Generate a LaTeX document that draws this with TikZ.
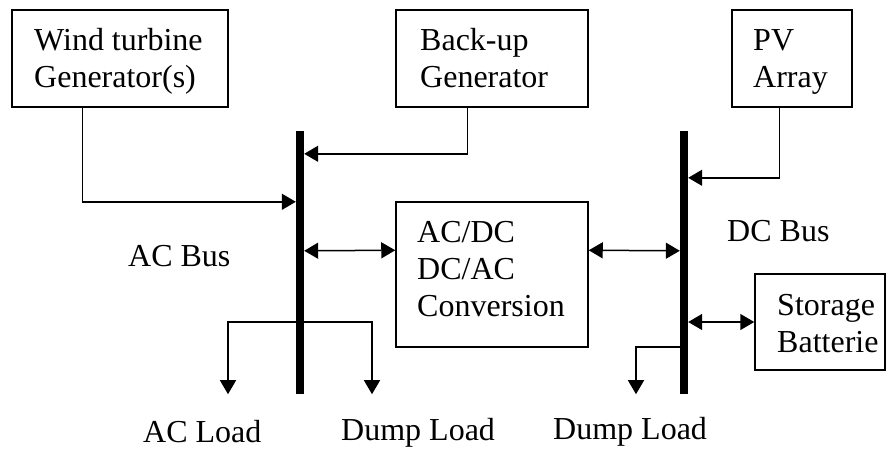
\documentclass[tikz,border=0pt]{standalone}
\usepackage{fontspec}
\setmainfont{Liberation Serif}
\usetikzlibrary{arrows.meta,calc}
\begin{document}
\begin{tikzpicture}[x=1pt,y=-1pt,
  box/.style={draw,line width=1.5pt,rectangle,inner sep=0pt},
  bus/.style={fill=black,rectangle,inner sep=0pt,minimum width=8pt,minimum height=263pt},
  lbl/.style={anchor=base west,inner sep=0pt,font=\fontsize{32}{37}\selectfont},
  conn/.style={line width=1.5pt},
  tip/.style={-{Triangle[length=14pt,width=16pt]}},
  dtip/.style={{Triangle[length=14pt,width=16pt]}-{Triangle[length=14pt,width=16pt]}}]
\useasboundingbox (0,0) rectangle (889,448);
% boxes
\node[box,minimum width=216pt,minimum height=97pt] (wind) at (120,58.5) {};
\node[box,minimum width=192pt,minimum height=97pt] (backup) at (492,58.5) {};
\node[box,minimum width=120pt,minimum height=97pt] (pv) at (792,58.5) {};
\node[box,minimum width=192pt,minimum height=145pt] (conv) at (492,274.5) {};
\node[box,minimum width=130pt,minimum height=96pt] (stor) at (820,322) {};
% buses
\node[bus] (acbus) at (300,262.5) {};
\node[bus] (dcbus) at (684,262.5) {};
% box texts
\node[lbl] (windtxt) at (34,50) {\vtop{\hbox{Wind turbine}\hbox{Generator(s)}}};
\node[lbl] (backuptxt) at (420,50) {\vtop{\hbox{Back-up}\hbox{Generator}}};
\node[lbl] (pvtxt) at (753,50) {\vtop{\hbox{PV}\hbox{Array}}};
\node[lbl] (convtxt) at (417,242) {\vtop{\hbox{AC/DC}\hbox{DC/AC}\hbox{Conversion}}};
\node[lbl] (stortxt) at (777,315) {\vtop{\hbox{Storage}\hbox{Batterie}}};
% labels
\node[lbl] (aclbl) at (128,266) {AC Bus};
\node[lbl] (dclbl) at (727,241) {DC Bus};
\node[lbl] (acload) at (143,442) {AC Load};
\node[lbl] (dump1) at (341,440) {Dump Load};
\node[lbl] (dump2) at (553,439) {Dump Load};
% connectors
\draw[conn,tip] ($(wind.south west)+(71,0)$) |- ($(acbus.north west)+(0,71)$);
\draw[conn,tip] ($(backup.south west)+(72,0)$) |- ($(acbus.north east)+(0,23)$);
\draw[conn,tip] ($(pv.south west)+(48,0)$) |- ($(dcbus.north east)+(0,47)$);
\draw[conn,dtip] ($(acbus.north east)+(0,120)$) -- ($(conv.north west)+(0,49)$);
\draw[conn,dtip] ($(conv.north east)+(0,49)$) -- ($(dcbus.north west)+(0,120)$);
\draw[conn,dtip] (dcbus.east |- stor.west) -- (stor.west);
\draw[conn,dtip] ($(acbus.south)+(-72,0)$) |- ($(acbus.south)+(0,-72)$) -| ($(acbus.south)+(72,0)$);
\draw[conn,tip] ($(dcbus.south)+(0,-47)$) -| ($(dcbus.south)+(-48,0)$);
\end{tikzpicture}
\end{document}
